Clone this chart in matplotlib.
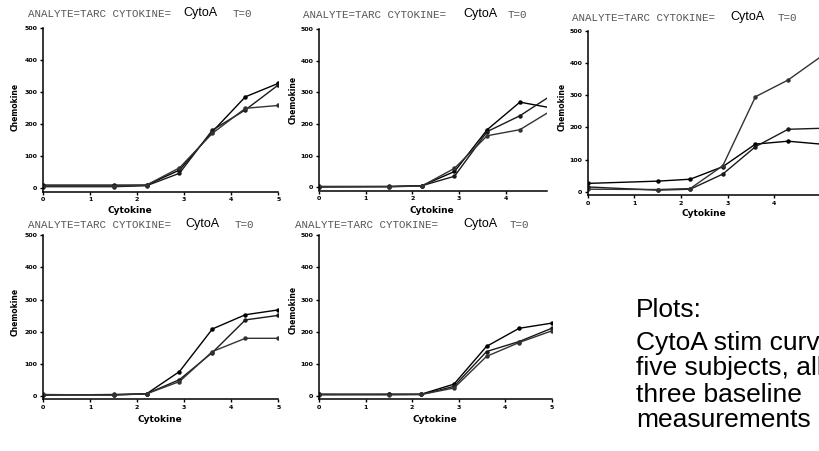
import matplotlib
matplotlib.use("Agg")
import matplotlib.pyplot as plt

# dose levels (log scale) shared by every subject
dose = [0, 1.5, 2.2, 2.9, 3.6, 4.3, 5]

# chemokine response, three baseline measurements per subject
subj1_a = [8, 8, 8, 55, 175, 284, 326]
subj1_b = [3, 3, 6, 45, 180, 243, 321]
subj1_c = [5, 5, 8, 62, 170, 248, 257]

subj2_a = [2, 3, 5, 50, 182, 269, 250]
subj2_b = [1, 2, 5, 35, 176, 226, 293]
subj2_c = [3, 2, 4, 60, 163, 182, 245]

subj3_a = [26, 33, 39, 78, 148, 157, 148]
subj3_b = [15, 5, 8, 55, 140, 194, 197]
subj3_c = [8, 7, 10, 81, 295, 347, 419]

subj4_a = [5, 5, 8, 77, 209, 253, 268]
subj4_b = [4, 6, 8, 52, 136, 237, 251]
subj4_c = [6, 4, 8, 46, 139, 180, 180]

subj5_a = [7, 7, 7, 38, 155, 211, 227]
subj5_b = [5, 6, 6, 31, 139, 170, 211]
subj5_c = [6, 5, 6, 26, 124, 167, 203]

y_ticks = [0, 100, 200, 300, 400, 500]
x_ticks = [0, 1, 2, 3, 4, 5]

W, H = 820, 451
fig = plt.figure(figsize=(W / 100, H / 100), dpi=100)


def box(left, top, right, bottom):
    return [left / W, 1 - bottom / H, (right - left) / W, (bottom - top) / H]


def px(x, y):
    return x / W, 1 - y / H


def panel(rect, series, xmax, ylow, xt, title_xy, xlab_xy, ylab_xy):
    ax = fig.add_axes(box(*rect))
    shades = ["#000000", "#1a1a1a", "#333333"]
    for s, c in zip(series, shades):
        ax.plot(dose, s, color=c, lw=1.0, marker="o", ms=2.2, clip_on=True)
    ax.set_xlim(0, xmax)
    ax.set_ylim(ylow, 500)
    ax.set_xticks(xt)
    ax.set_yticks(y_ticks)
    ax.set_xticklabels([str(t) for t in xt], fontsize=4.5, fontweight="bold")
    ax.set_yticklabels([str(t) for t in y_ticks], fontsize=4.5, fontweight="bold")
    ax.tick_params(length=2.5, width=1.0, pad=1.5)
    for side in ["top", "right"]:
        ax.spines[side].set_visible(False)
    for side in ["left", "bottom"]:
        ax.spines[side].set_linewidth(1.1)
    ax.patch.set_alpha(0)

    tx, ty, cx, t0x = title_xy
    fig.text(*px(tx, ty), "ANALYTE=TARC CYTOKINE=", family="Liberation Mono",
             fontsize=7.8, color="#555555", va="center")
    fig.text(*px(cx, ty - 1), "CytoA", family="Liberation Sans",
             fontsize=9, color="black", va="center")
    fig.text(*px(t0x, ty), "T=0", family="Liberation Mono",
             fontsize=7.8, color="#555555", va="center")
    fig.text(*px(*xlab_xy), "Cytokine", fontsize=6.5, fontweight="bold",
             ha="center", va="center")
    fig.text(*px(*ylab_xy), "Chemokine", fontsize=5.5, fontweight="bold",
             ha="center", va="center", rotation=90)
    return ax


panel((43, 27.7, 278.3, 191.5), [subj1_a, subj1_b, subj1_c], 5, -12, x_ticks,
      (28, 14, 183, 233), (130, 211), (15, 107))
panel((319, 29, 547, 190.5), [subj2_a, subj2_b, subj2_c], 4.88, -10, x_ticks[:5],
      (303, 15, 463, 508), (432, 211), (293, 100))
panel((587.7, 30.7, 820.7, 195), [subj3_a, subj3_b, subj3_c], 5, -10, x_ticks,
      (572, 18, 730, 778), (704, 214), (562, 107))
panel((43, 235, 278.3, 399), [subj4_a, subj4_b, subj4_c], 5, -8, x_ticks,
      (28, 225, 185, 235), (160, 419), (15, 312))
panel((319, 235, 551.7, 399), [subj5_a, subj5_b, subj5_c], 5, -8, x_ticks,
      (295, 225, 463, 510), (435, 419), (293, 310))

# caption on the right
notes = [("Plots:", 310), ("CytoA stim curves for", 343), ("five subjects, all", 368),
         ("three baseline", 395), ("measurements", 420)]
for line, y in notes:
    fig.text(*px(636, y), line, family="Liberation Sans", fontsize=19,
             color="black", va="center")

fig.savefig("out.png", dpi=100)
